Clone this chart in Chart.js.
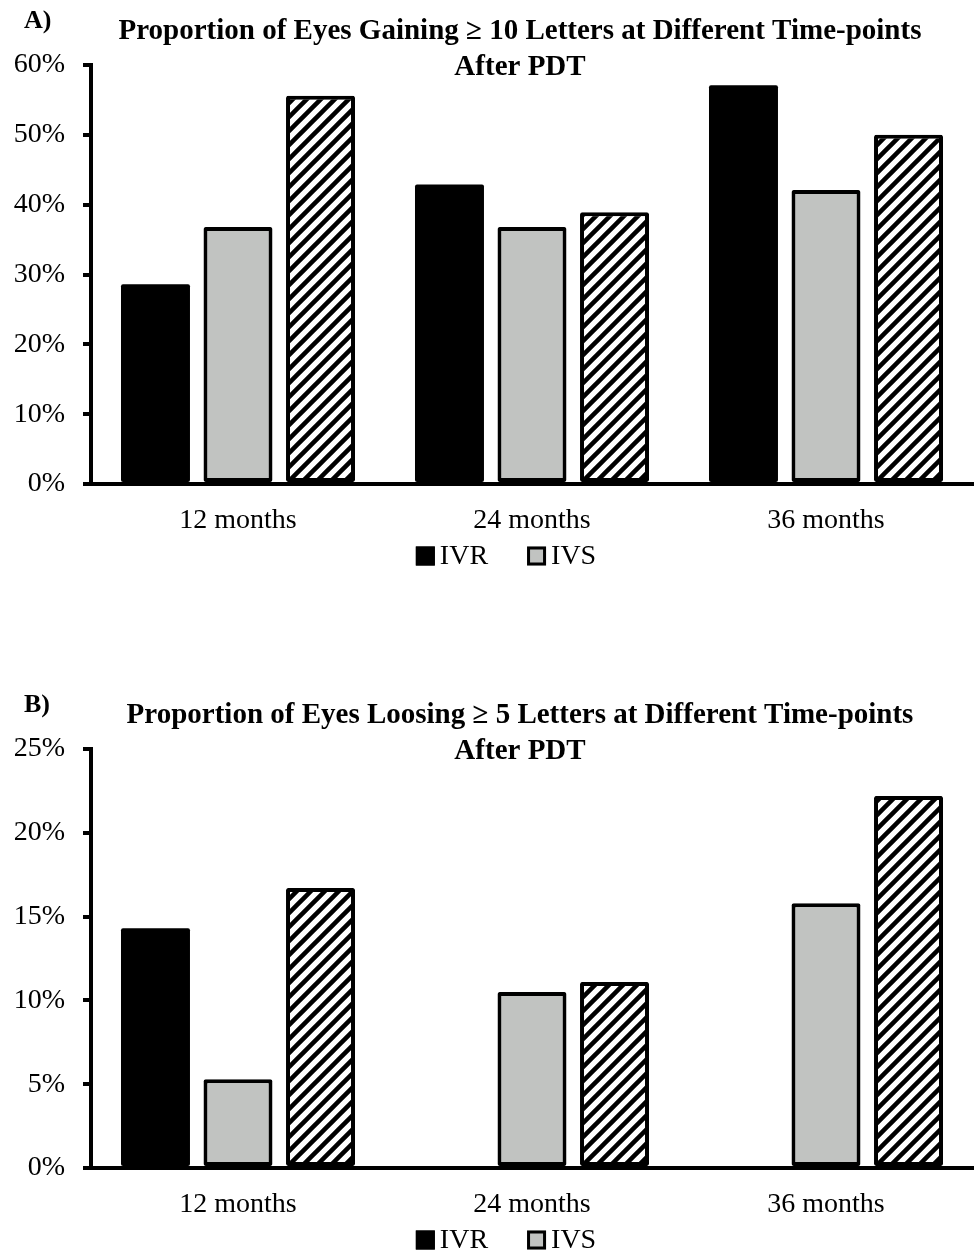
<!DOCTYPE html>
<html>
<head>
<meta charset="utf-8">
<script src="https://cdn.jsdelivr.net/npm/chart.js@4.4.1/dist/chart.umd.min.js"></script>
<style>
  html, body { margin: 0; padding: 0; background: #fff; overflow: hidden; }
  body { width: 974px; height: 1252px; position: relative; }
  .panel { position: absolute; left: 0; width: 974px; height: 568px; }
  #panelA { top: 0; }
  #panelB { top: 684px; }
</style>
</head>
<body>
<div class="panel" id="panelA"><canvas id="chartA" width="974" height="568"></canvas></div>
<div class="panel" id="panelB"><canvas id="chartB" width="974" height="568"></canvas></div>
<script>
// Time points after PDT
const categories = ['12 months', '24 months', '36 months'];

// A) proportion of eyes gaining >= 10 letters (%)
const gainIVR = [28.6, 42.9, 57.1];
const gainIVS = [36.8, 36.8, 42.1];
const gainIVB = [55.6, 38.9, 50.0];

// B) proportion of eyes losing >= 5 letters (%)
const lossIVR = [14.3, 0, 0];
const lossIVS = [5.3, 10.5, 15.8];
const lossIVB = [16.7, 11.1, 22.2];

// Axis ranges (percent)
const gainAxis = { max: 60, step: 10 };
const lossAxis = { max: 25, step: 5 };

const titleA = ['Proportion of Eyes Gaining \u2265 10 Letters at Different Time-points', 'After PDT'];
const titleB = ['Proportion of Eyes Loosing \u2265 5 Letters at Different Time-points', 'After PDT'];

const SERIF = '"Liberation Serif", "Times New Roman", serif';

// Diagonal hatch fill for the third group
function makeHatch() {
  const s = 14;
  const c = document.createElement('canvas');
  c.width = s; c.height = s;
  const g = c.getContext('2d');
  g.fillStyle = '#fff';
  g.fillRect(0, 0, s, s);
  g.strokeStyle = '#000';
  g.lineWidth = 4.5;
  g.lineCap = 'square';
  g.beginPath();
  g.moveTo(-s, s); g.lineTo(s, -s);
  g.moveTo(0, s * 2); g.lineTo(s * 2, 0);
  g.moveTo(-s, s * 2); g.lineTo(s * 2, -s);
  g.stroke();
  return g.createPattern(c, 'repeat');
}
const hatch = makeHatch();

// Panel letter, two-line heading and a two-entry legend drawn on the canvas
const decorations = {
  id: 'decorations',
  afterDraw(chart, args, o) {
    const ctx = chart.ctx;
    ctx.save();
    ctx.fillStyle = '#000';
    ctx.textBaseline = 'middle';

    ctx.font = 'bold 26px ' + SERIF;
    ctx.textAlign = 'left';
    ctx.fillText(o.panel, 24, 21);

    ctx.font = 'bold 29px ' + SERIF;
    ctx.textAlign = 'center';
    o.heading.forEach((line, i) => ctx.fillText(line, o.headingX, 32 + i * 36));

    // legend
    ctx.font = '28px ' + SERIF;
    ctx.textAlign = 'left';
    const box = 19, gap = 5, spacing = 39;
    const items = chart.data.datasets.filter(d => d.inLegend);
    const widths = items.map(d => box + gap + ctx.measureText(d.label).width);
    const total = widths.reduce((a, b) => a + b, 0) + spacing * (items.length - 1);
    let x = o.legendX - total / 2;
    const y = o.legendY;
    items.forEach((d, i) => {
      ctx.fillStyle = d.backgroundColor;
      ctx.fillRect(x, y - box / 2, box, box);
      ctx.strokeStyle = '#000';
      ctx.lineWidth = 3;
      ctx.strokeRect(x + 1.5, y - box / 2 + 1.5, box - 3, box - 3);
      ctx.fillStyle = '#000';
      ctx.fillText(d.label, x + box + gap, y + 1);
      x += widths[i] + spacing;
    });
    ctx.restore();
  }
};

function makeChart(id, ivr, ivs, ivb, axis, heading, panel) {
  const barStyle = {
    borderColor: '#000',
    borderWidth: 4,
    borderSkipped: false,
    borderRadius: 2,
    categoryPercentage: 0.842,
    barPercentage: 0.836
  };
  return new Chart(document.getElementById(id), {
    type: 'bar',
    data: {
      labels: categories,
      datasets: [
        // solid black bars need no separate outline
        Object.assign({}, barStyle, { label: 'IVR', data: ivr, backgroundColor: '#000', borderWidth: 0, inLegend: true }),
        Object.assign({}, barStyle, { label: 'IVS', data: ivs, backgroundColor: '#c1c3c1', inLegend: true }),
        Object.assign({}, barStyle, { label: 'IVB', data: ivb, backgroundColor: hatch, inLegend: false })
      ]
    },
    options: {
      responsive: false,
      animation: false,
      devicePixelRatio: 1,
      layout: { padding: { top: 65, left: 0, right: 1, bottom: 29 } },
      plugins: {
        legend: { display: false },
        title: { display: false },
        tooltip: { enabled: false },
        decorations: { panel: panel, heading: heading, headingX: 520, legendX: 506, legendY: 556 }
      },
      scales: {
        x: {
          grid: { display: false, drawTicks: false },
          border: { display: true, color: '#000', width: 4 },
          ticks: { color: '#000', padding: 20, font: { family: SERIF, size: 28 } },
          afterFit: s => { s.height = 55; }
        },
        y: {
          min: 0,
          max: axis.max,
          grid: { display: true, drawOnChartArea: false, drawTicks: true, tickLength: 8, lineWidth: 4, color: '#000' },
          border: { display: true, color: '#000', width: 4 },
          ticks: {
            stepSize: axis.step,
            color: '#000',
            padding: 18,
            font: { family: SERIF, size: 28 },
            callback: v => v + '%'
          },
          afterFit: s => { s.width = 91; }
        }
      }
    },
    plugins: [decorations]
  });
}

makeChart('chartA', gainIVR, gainIVS, gainIVB, gainAxis, titleA, 'A)');
makeChart('chartB', lossIVR, lossIVS, lossIVB, lossAxis, titleB, 'B)');
</script>
</body>
</html>
